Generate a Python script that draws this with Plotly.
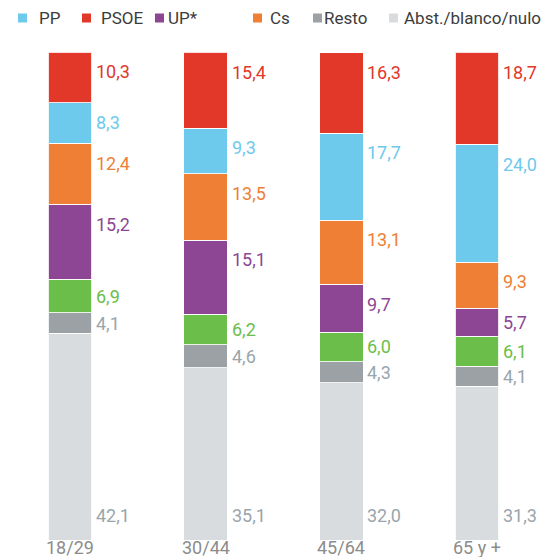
import plotly.graph_objects as go

# age groups and vote share (%) per group
grupos = ["18/29", "30/44", "45/64", "65 y +"]

abst = [42.1, 35.1, 32.0, 31.3]
resto = [4.1, 4.6, 4.3, 4.1]
otros = [6.9, 6.2, 6.0, 6.1]
up = [15.2, 15.1, 9.7, 5.7]
cs = [12.4, 13.5, 13.1, 9.3]
pp = [8.3, 9.3, 17.7, 24.0]
psoe = [10.3, 15.4, 16.3, 18.7]

FONT = "Roboto, sans-serif"
W, H = 547, 557
L, R, T, B = 2, 2, 52, 17

# stack order, bottom to top: (name, values, fill, label colour)
series = [
    ("Abst./blanco/nulo", abst, "#D8DCDF", "#9AA5AC"),
    ("Resto", resto, "#9BA1A5", "#9AA5AC"),
    ("Otros", otros, "#6BBE4A", "#6BBE4A"),
    ("UP*", up, "#8C4693", "#8C4693"),
    ("Cs", cs, "#EE7F35", "#EE7F35"),
    ("PP", pp, "#6DCAEC", "#6DCAEC"),
    ("PSOE", psoe, "#E1382A", "#E1382A"),
]
legend_order = ["PP", "PSOE", "UP*", "Cs", "Resto", "Abst./blanco/nulo"]
# swatch left edge and text start, in pixels from the left
legend_box_x = [18, 82, 155, 253, 313, 389]
legend_txt_x = [37, 99, 166, 268, 322, 402]
LEGEND_Y = 18


def px_x(p):
    return (p - L) / (W - L - R)


def px_y(p):
    return (H - B - p) / (H - T - B)


fig = go.Figure()
annotations = []
shapes = []
base = [0.0] * len(grupos)

for name, vals, fill, txt in series:
    fig.add_trace(go.Bar(
        x=grupos, y=vals, name=name, width=0.32,
        marker=dict(color=fill, line=dict(color="rgba(255,255,255,0.85)", width=1)),
        showlegend=False, hoverinfo="x+y+name",
    ))
    for i, v in enumerate(vals):
        bottom, top = base[i], base[i] + v
        if name == "Abst./blanco/nulo":
            ypos = bottom + 5
        else:
            # tall segments get their label nearer the top
            ypos = max((bottom + top) / 2, top - 4.0)
        annotations.append(dict(
            x=grupos[i], y=ypos, xref="x", yref="y",
            text=f"{v:.1f}".replace(".", ","), showarrow=False,
            xanchor="left", yanchor="middle", xshift=24,
            font=dict(family=FONT, size=18, color=txt),
        ))
        base[i] = top

# legend row drawn by hand (green series has no entry)
colors = {s[0]: s[2] for s in series}
for name, bx, tx in zip(legend_order, legend_box_x, legend_txt_x):
    shapes.append(dict(
        type="rect", xref="paper", yref="paper",
        x0=px_x(bx), x1=px_x(bx + 9),
        y0=px_y(LEGEND_Y + 4.5), y1=px_y(LEGEND_Y - 4.5),
        fillcolor=colors[name], line=dict(width=0),
    ))
    annotations.append(dict(
        x=px_x(tx), y=px_y(LEGEND_Y), xref="paper", yref="paper",
        text=name, showarrow=False, xanchor="left", yanchor="middle",
        font=dict(family=FONT, size=17, color="#3C3C3C"),
    ))

# category labels under the bars
for g in grupos:
    annotations.append(dict(
        x=g, y=0, xref="x", yref="y", text=g, showarrow=False,
        xanchor="center", yanchor="middle", yshift=-7,
        font=dict(family=FONT, size=18, color="#8C8C8C"),
    ))

fig.update_layout(
    width=W, height=H,
    margin=dict(l=L, r=R, t=T, b=B, autoexpand=False),
    barmode="stack",
    paper_bgcolor="white", plot_bgcolor="white",
    font=dict(family=FONT, size=18, color="#555"),
    showlegend=False,
    xaxis=dict(showticklabels=False, showgrid=False, zeroline=False,
               showline=False, range=[-0.5, 3.5]),
    yaxis=dict(visible=False, range=[0, 99.3]),
    annotations=annotations,
    shapes=shapes,
)

# drop the page's default body margin so the figure sits at the corner
fig.write_html("out.html", config={"displayModeBar": False},
               post_script="document.body.style.margin='0';")
